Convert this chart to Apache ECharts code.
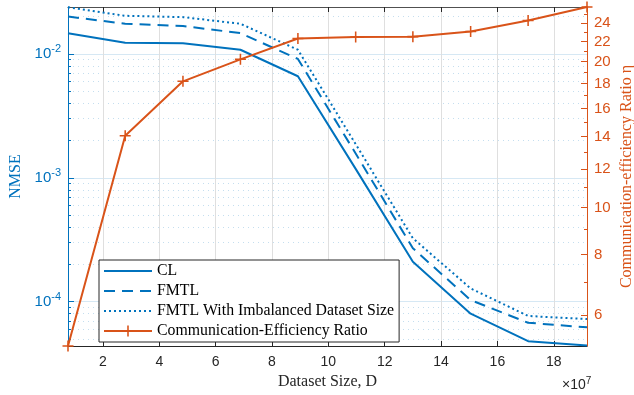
<!DOCTYPE html>
<html>
	<head>
		<meta charset="utf-8">
		<title>NMSE and communication-efficiency ratio</title>
		<script src="https://cdn.jsdelivr.net/npm/echarts@6/dist/echarts.min.js"></script>
	</head>
	<body style="margin: 0;">
		<div id="box" style="width: 634px;height: 395px;"></div>
		<script>
			// dataset size (x 10^7)
			var xValues = [0.76, 2.79, 4.84, 6.88, 8.92, 10.97, 13.0, 15.05, 17.09, 19.18]
			// NMSE, left axis
			var nmseCL = [0.0147, 0.0123, 0.0122, 0.0108, 0.0066, 0.00118, 0.00021, 0.00008, 0.000048, 0.0000444]
			var nmseFMTL = [0.0200, 0.0175, 0.0168, 0.0147, 0.0091, 0.00157, 0.00027, 0.000103, 0.0000676, 0.0000621]
			var nmseImb = [0.0238, 0.0203, 0.0198, 0.0175, 0.0108, 0.00187, 0.000325, 0.000128, 0.0000767, 0.0000724]
			// communication-efficiency ratio, right axis
			var ratioEta = [5.18, 14.05, 18.2, 20.2, 22.3, 22.45, 22.5, 23.05, 24.3, 25.9]

			var xTicks = [2, 4, 6, 8, 10, 12, 14, 16, 18]
			var nmseTicks = [1e-4, 1e-3, 1e-2]
			var etaTicks = [6, 8, 10, 12, 14, 16, 18, 20, 22, 24]
			var etaMinorTicks = [5, 7, 9, 11, 13, 15, 17, 19, 21, 23, 25]

			var xMin = 0.76, xMax = 19.18
			var nmseMin = 4.39e-5, nmseMax = 0.0239
			var etaMin = 5.18, etaMax = 25.9

			var blue = '#0072BD'
			var orange = '#D95319'
			var dark = '#262626'
			var serif = 'Liberation Serif'
			var sans = 'Liberation Sans'

			// minor log ticks 2..9 of each decade
			var nmseMinor = []
			for (var e = -5; e <= -2; e++) {
				for (var k = 2; k <= 9; k++) {
					var v = k * Math.pow(10, e)
					if (v > nmseMin && v < nmseMax) nmseMinor.push(v)
				}
			}

			function pairs(ys) {
				return xValues.map(function (x, i) { return [x, ys[i]] })
			}

			var plus = 'path://M4.3,0h1.4v4.3h4.3v1.4h-4.3v4.3h-1.4v-4.3h-4.3v-1.4h4.3z'
			var noMark = { opacity: 0 }

			var mCharts = echarts.init(document.querySelector('#box'))
			var option = {
				animation: false,
				grid: { left: 68, right: 47, top: 7, bottom: 49, outerBoundsMode: 'none' },
				legend: {
					orient: 'vertical',
					left: 99,
					top: 260,
					padding: [3, 5, 3, 4],
					itemGap: 4,
					itemWidth: 48,
					itemHeight: 14,
					backgroundColor: '#fff',
					borderColor: dark,
					borderWidth: 1,
					borderRadius: 0,
					textStyle: { fontFamily: serif, fontSize: 15.8, lineHeight: 14, color: '#000' },
					data: [
						{ name: 'CL', itemStyle: noMark },
						{ name: 'FMTL', itemStyle: noMark },
						{ name: 'FMTL With Imbalanced Dataset Size', itemStyle: noMark },
						{ name: 'Communication-Efficiency Ratio' }
					]
				},
				xAxis: [{
					type: 'value',
					position: 'bottom',
					min: xMin,
					max: xMax,
					name: 'Dataset Size, D',
					nameLocation: 'middle',
					nameGap: 26,
					nameTextStyle: { fontFamily: serif, fontSize: 16, color: dark },
					axisLine: { onZero: false, lineStyle: { color: dark, width: 1 } },
					axisTick: { inside: true, length: 5, customValues: xTicks, lineStyle: { color: dark } },
					axisLabel: { customValues: xTicks, margin: 9, fontFamily: sans, fontSize: 14, color: dark },
					splitLine: { show: true, lineStyle: { color: '#DFDFDF', width: 1 } }
				}, {
					type: 'value',
					position: 'top',
					min: xMin,
					max: xMax,
					axisLine: { onZero: false, lineStyle: { color: '#505050', width: 1.2 } },
					axisTick: { inside: true, length: 5, customValues: xTicks, lineStyle: { color: dark } },
					axisLabel: { show: false },
					splitLine: { show: false }
				}],
				yAxis: [{
					type: 'log',
					position: 'left',
					min: nmseMin,
					max: nmseMax,
					name: 'NMSE',
					nameLocation: 'middle',
					nameGap: 44,
					nameRotate: 90,
					nameTextStyle: { fontFamily: serif, fontSize: 16, color: blue },
					axisLine: { lineStyle: { color: blue, width: 1 } },
					axisTick: { inside: true, length: 6, customValues: nmseTicks, lineStyle: { color: blue } },
					axisLabel: {
						customValues: nmseTicks,
						margin: 7,
						formatter: function (v) {
							return '{b|10}{s|' + Math.round(Math.log10(v)) + '}'
						},
						rich: {
							b: { fontFamily: sans, fontSize: 15, color: blue },
							s: { fontFamily: sans, fontSize: 11, color: blue, padding: [0, 0, 9, 0] }
						}
					},
					splitLine: { show: true, lineStyle: { color: '#D6E8F4', width: 1 } }
				}, {
					type: 'log',
					position: 'right',
					min: etaMin,
					max: etaMax,
					name: 'Communication-efficiency Ratio η',
					nameLocation: 'middle',
					nameGap: 32,
					nameRotate: 90,
					nameMoveOverlap: false,
					nameTextStyle: { fontFamily: serif, fontSize: 16, color: orange },
					axisLine: { lineStyle: { color: orange, width: 1 } },
					axisTick: { inside: true, length: 6, customValues: etaTicks, lineStyle: { color: orange } },
					axisLabel: { customValues: etaTicks, margin: 7, fontFamily: sans, fontSize: 15, color: orange },
					splitLine: { show: false }
				}, {
					type: 'log',
					position: 'left',
					min: nmseMin,
					max: nmseMax,
					axisLine: { show: false },
					axisTick: { inside: true, length: 3, customValues: nmseMinor, lineStyle: { color: blue } },
					axisLabel: { show: false },
					splitLine: { show: true, lineStyle: { color: '#C4DEEF', width: 1, type: [1, 4] } }
				}, {
					type: 'log',
					position: 'right',
					min: etaMin,
					max: etaMax,
					axisLine: { show: false },
					axisTick: { inside: true, length: 3, customValues: etaMinorTicks, lineStyle: { color: orange } },
					axisLabel: { show: false },
					splitLine: { show: false }
				}],
				series: [{
					name: 'CL',
					type: 'line',
					yAxisIndex: 0,
					data: pairs(nmseCL),
					symbol: 'none',
					color: blue,
					lineStyle: { color: blue, width: 2 }
				}, {
					name: 'FMTL',
					type: 'line',
					yAxisIndex: 0,
					data: pairs(nmseFMTL),
					symbol: 'none',
					color: blue,
					lineStyle: { color: blue, width: 2, type: [11, 7] }
				}, {
					name: 'FMTL With Imbalanced Dataset Size',
					type: 'line',
					yAxisIndex: 0,
					data: pairs(nmseImb),
					symbol: 'none',
					color: blue,
					lineStyle: { color: blue, width: 2, type: [2, 3] }
				}, {
					name: 'Communication-Efficiency Ratio',
					type: 'line',
					yAxisIndex: 1,
					data: pairs(ratioEta),
					symbol: plus,
					symbolSize: 11,
					color: orange,
					itemStyle: { color: orange },
					lineStyle: { color: orange, width: 2 }
				}],
				graphic: [{
					type: 'text',
					left: 562,
					top: 376,
					style: {
						text: '{a|×10}{b|7}',
						rich: {
							a: { fontFamily: sans, fontSize: 14, fill: dark, color: dark },
							b: { fontFamily: sans, fontSize: 10, fill: dark, color: dark, padding: [0, 0, 9, 0] }
						}
					}
				}]
			}
			mCharts.setOption(option)
		</script>
	</body>
</html>
